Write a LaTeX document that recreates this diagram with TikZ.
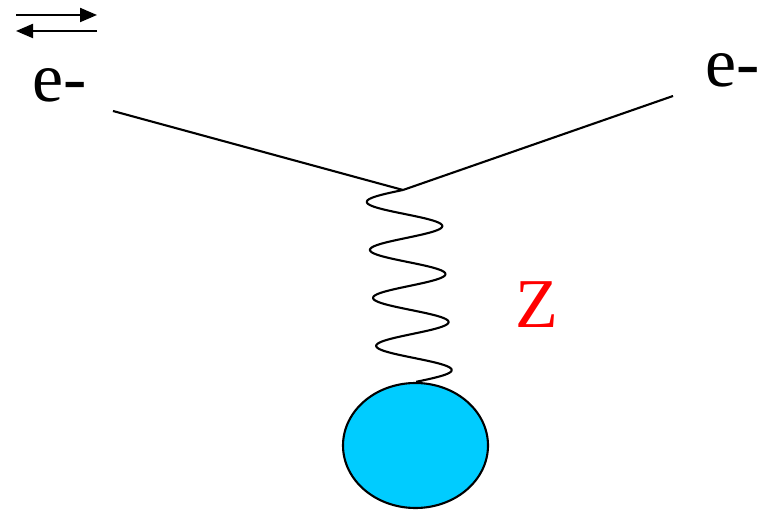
\documentclass[tikz,border=0pt]{standalone}
\usepackage{fontspec}
\setmainfont{Liberation Serif}
\usepackage{tikz}
\usetikzlibrary{arrows.meta,shapes.geometric,calc}

\begin{document}
\begin{tikzpicture}[
    x=1pt, y=1pt,
    >={Triangle[length=17pt,width=14pt]},
    fermion/.style={line width=2.1pt},
    big/.style={font=\fontsize{70}{80}\selectfont, inner sep=0pt, anchor=base},
    zwave/.style={line width=2.1pt, line join=round}
]

% Marc
\useasboundingbox (0,0) rectangle (767,513);

% Fletxes
\coordinate (upL) at (16,498);
\coordinate (upR) at (97,498);
\coordinate (dnL) at (16,482);
\coordinate (dnR) at (97,482);

\draw[
    ->,
    fermion
] (upL) -- (upR);

\draw[
    ->,
    fermion
] (dnR) -- (dnL);

% Electrons
\node[big] (eIn) at (60,411) {e-};
\node[big] (eOut) at (733,426) {e-};

\coordinate (inEnd) at (113,402);
\coordinate (vtx) at (403,323);
\coordinate (outEnd) at (673,417);

\draw[fermion] (inEnd) -- (vtx);
\draw[fermion] (vtx) -- (outEnd);

% Nucli
\node[
    ellipse,
    draw,
    line width=2.1pt,
    fill={rgb,255:red,0;green,204;blue,255},
    minimum width=145pt,
    minimum height=125pt,
    inner sep=0pt
] (ball) at (415.5,67.5) {};

% Boso Z
\draw[zwave]
    let \p1=(vtx), \p2=(ball.north) in
    plot[variable=\t, domain=0:1, samples=240, smooth]
    ({\x1+(\x2-\x1)*\t-37*sin(1440*\t)}, {\y1+(\y2-\y1)*\t});

\node[big, red] (zLabel) at (537,185) {Z};

\end{tikzpicture}
\end{document}
